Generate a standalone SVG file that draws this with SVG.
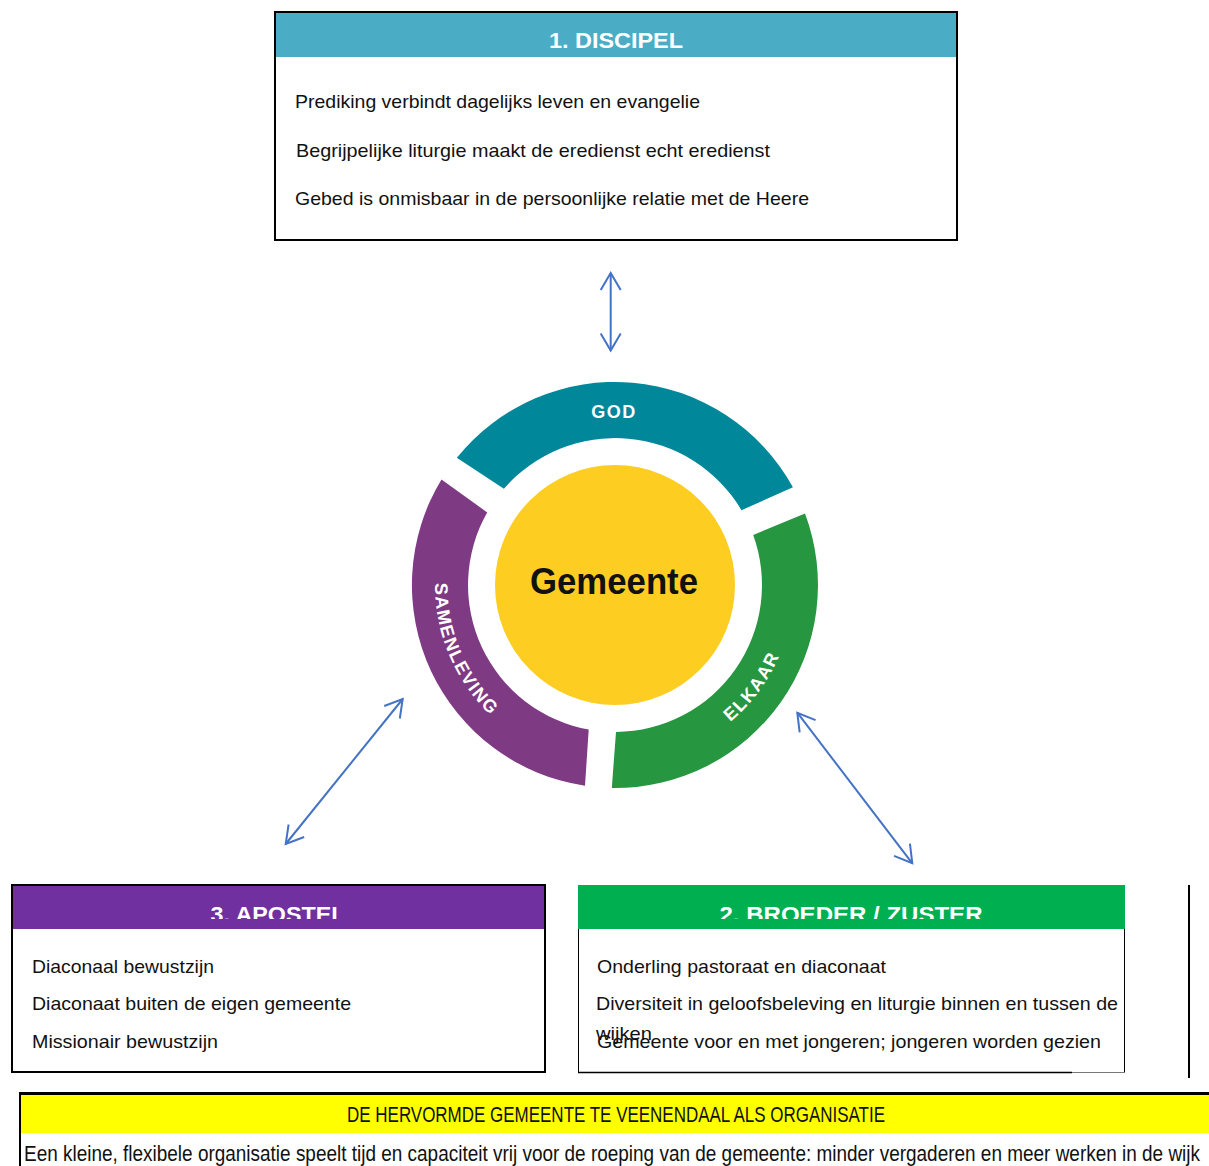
<svg xmlns="http://www.w3.org/2000/svg" width="1209" height="1166" viewBox="0 0 1209 1166">
<style>
.body{font-family:"Liberation Sans",Arial,sans-serif;font-size:19px;fill:#111}
.title{font-family:"Liberation Sans",Arial,sans-serif;font-size:22px;font-weight:bold;fill:#fff}
.ring{font-family:"Liberation Sans",Arial,sans-serif;font-size:18px;font-weight:bold;fill:#fff;letter-spacing:1.5px}
.cond{font-family:"Liberation Sans",Arial,sans-serif;font-size:22px;fill:#111}
.conn{stroke:#4472C4;stroke-width:2;fill:none}
</style>
<defs>
<marker id="ah" markerUnits="userSpaceOnUse" markerWidth="30" markerHeight="30" refX="0" refY="0" orient="auto-start-reverse" overflow="visible">
<path d="M -17 -10 L 0 0 L -17 10" fill="none" stroke="#4472C4" stroke-width="2"/>
</marker>
<clipPath id="clipA"><rect x="12" y="885" width="533" height="34"/></clipPath>
<clipPath id="clipB"><rect x="578" y="885" width="547" height="34"/></clipPath>
<path id="arcS" d="M 448.1 517.6 A 180 180 0 0 0 547.6 751.9"/>
<path id="arcE" d="M 641.5 762.0 A 179 179 0 0 0 792.0 558.5"/>
</defs>
<rect width="1209" height="1166" fill="#fff"/>

<g id="discipel">
<rect x="275" y="12" width="682" height="228" fill="#fff" stroke="#000" stroke-width="2"/>
<rect x="276" y="13" width="680" height="44" fill="#4BACC6"/>
<text class="title" x="616" y="48" text-anchor="middle" textLength="134" lengthAdjust="spacingAndGlyphs">1. DISCIPEL</text>
<text class="body" x="295" y="108" textLength="405" lengthAdjust="spacingAndGlyphs">Prediking verbindt dagelijks leven en evangelie</text>
<text class="body" x="296" y="157" textLength="474" lengthAdjust="spacingAndGlyphs">Begrijpelijke liturgie maakt de eredienst echt eredienst</text>
<text class="body" x="295" y="205" textLength="514" lengthAdjust="spacingAndGlyphs">Gebed is onmisbaar in de persoonlijke relatie met de Heere</text>
</g>

<g id="gemeente">
<path d="M 456.8 457.8 A 203 203 0 0 1 792.9 487.2 L 741.5 510.2 A 147 147 0 0 0 503.9 488.8 Z" fill="#01879A"/>
<path d="M 805.0 513.6 A 203 203 0 0 1 611.8 788.0 L 616.0 732.0 A 147 147 0 0 0 753.2 535.0 Z" fill="#269641"/>
<path d="M 585.0 785.8 A 203 203 0 0 1 441.5 479.5 L 487.2 512.4 A 147 147 0 0 0 588.7 729.6 Z" fill="#7F3A84"/>
<circle cx="615" cy="585" r="120" fill="#FDCD22"/>
<text x="614" y="594" text-anchor="middle" font-family="Liberation Sans, Arial, sans-serif" font-size="36" font-weight="bold" fill="#111" textLength="168" lengthAdjust="spacingAndGlyphs">Gemeente</text>
<text class="ring" x="614" y="418" text-anchor="middle">GOD</text>
<text class="ring"><textPath href="#arcS" startOffset="50%" text-anchor="middle">SAMENLEVING</textPath></text>
<text class="ring"><textPath href="#arcE" startOffset="50%" text-anchor="middle">ELKAAR</textPath></text>
</g>

<g id="apostel">
<rect x="12" y="885" width="533" height="187" fill="#fff" stroke="#000" stroke-width="2"/>
<rect x="13" y="886" width="531" height="43" fill="#7030A0"/>
<text class="title" x="278" y="922" text-anchor="middle" textLength="135" lengthAdjust="spacingAndGlyphs" clip-path="url(#clipA)">3. APOSTEL</text>
<text class="body" x="32" y="973" textLength="182" lengthAdjust="spacingAndGlyphs">Diaconaal bewustzijn</text>
<text class="body" x="32" y="1010" textLength="319" lengthAdjust="spacingAndGlyphs">Diaconaat buiten de eigen gemeente</text>
<text class="body" x="32" y="1048" textLength="186" lengthAdjust="spacingAndGlyphs">Missionair bewustzijn</text>
</g>

<g id="broeder">
<rect x="578" y="929" width="546.5" height="143" fill="#fff"/>
<rect x="578" y="885" width="547" height="44" fill="#00B050"/>
<line x1="578.5" y1="929" x2="578.5" y2="1072" stroke="#000" stroke-width="1"/>
<line x1="1124.5" y1="929" x2="1124.5" y2="1072.5" stroke="#000" stroke-width="1"/>
<line x1="578" y1="1072.5" x2="1125" y2="1072.5" stroke="#777" stroke-width="1"/>
<line x1="578" y1="1072.5" x2="1072" y2="1072.5" stroke="#000" stroke-width="1.5"/>
<text class="title" x="851" y="922" text-anchor="middle" textLength="263" lengthAdjust="spacingAndGlyphs" clip-path="url(#clipB)">2. BROEDER / ZUSTER</text>
<text class="body" x="597" y="973" textLength="289" lengthAdjust="spacingAndGlyphs">Onderling pastoraat en diaconaat</text>
<text class="body" x="596" y="1010" textLength="522" lengthAdjust="spacingAndGlyphs">Diversiteit in geloofsbeleving en liturgie binnen en tussen de</text>
<text class="body" x="596" y="1040" textLength="56" lengthAdjust="spacingAndGlyphs">wijken</text>
<text class="body" x="597" y="1048" textLength="504" lengthAdjust="spacingAndGlyphs">Gemeente voor en met jongeren; jongeren worden gezien</text>
<line x1="1189" y1="885" x2="1189" y2="1078" stroke="#000" stroke-width="2"/>
</g>

<g id="organisatie">
<rect x="20" y="1094" width="1189" height="39" fill="#FFFF00"/>
<line x1="19" y1="1093.5" x2="1209" y2="1093.5" stroke="#000" stroke-width="3"/>
<line x1="20" y1="1092" x2="20" y2="1166" stroke="#000" stroke-width="2"/>
<text class="cond" x="616" y="1122" text-anchor="middle" textLength="538" lengthAdjust="spacingAndGlyphs">DE HERVORMDE GEMEENTE TE VEENENDAAL ALS ORGANISATIE</text>
<text class="cond" x="24" y="1161" textLength="1176" lengthAdjust="spacingAndGlyphs">Een kleine, flexibele organisatie speelt tijd en capaciteit vrij voor de roeping van de gemeente: minder vergaderen en meer werken in de wijk</text>
</g>

<g id="connectors">
<line class="conn" x1="610.7" y1="273" x2="610.7" y2="350.5" marker-start="url(#ah)" marker-end="url(#ah)"/>
<line class="conn" x1="402.7" y1="699" x2="285.7" y2="844" marker-start="url(#ah)" marker-end="url(#ah)"/>
<line class="conn" x1="797.3" y1="712.7" x2="912.3" y2="863.3" marker-start="url(#ah)" marker-end="url(#ah)"/>
</g>
</svg>
